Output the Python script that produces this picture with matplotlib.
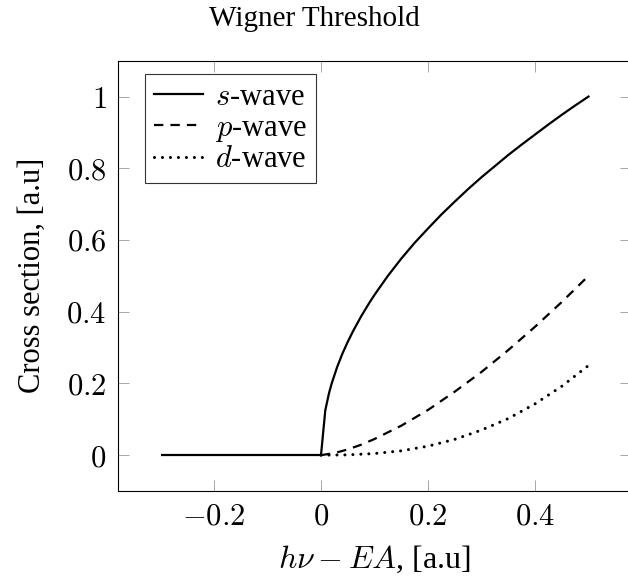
import matplotlib
matplotlib.use("Agg")
import matplotlib.pyplot as plt
from matplotlib.ticker import FixedLocator, FuncFormatter

plt.rcParams['font.family'] = ['Liberation Serif', 'DejaVu Serif']
plt.rcParams['mathtext.fontset'] = 'cm'

# data
x_flat = [-0.3, 0.0]
y_flat = [0.0, 0.0]
x_s = [0.0, 0.008, 0.015, 0.02, 0.03, 0.04, 0.05, 0.06, 0.075, 0.09, 0.1, 0.125, 0.15,
       0.175, 0.2, 0.225, 0.25, 0.275, 0.3, 0.325, 0.35, 0.375, 0.4, 0.425, 0.45, 0.475, 0.5]
y_s = [0.0, 0.125, 0.173, 0.20, 0.245, 0.283, 0.316, 0.346, 0.387, 0.424, 0.447, 0.50, 0.548,
       0.592, 0.632, 0.671, 0.707, 0.742, 0.775, 0.806, 0.837, 0.866, 0.894, 0.922, 0.949, 0.975, 1.00]
x_p = [0.0, 0.025, 0.05, 0.075, 0.1, 0.15, 0.2, 0.25, 0.3, 0.35, 0.4, 0.45, 0.5]
y_p = [0.0, 0.0056, 0.016, 0.029, 0.045, 0.082, 0.126, 0.177, 0.232, 0.293, 0.358, 0.427, 0.50]
x_d = [0.0, 0.05, 0.1, 0.15, 0.2, 0.25, 0.3, 0.35, 0.4, 0.45, 0.5]
y_d = [0.0, 0.0008, 0.0045, 0.012, 0.025, 0.044, 0.070, 0.102, 0.143, 0.192, 0.25]
labels = [r'$s$-wave', r'$p$-wave', r'$d$-wave']
xticks = [-0.2, 0.0, 0.2, 0.4]
yticks = [0.0, 0.2, 0.4, 0.6, 0.8, 1.0]

fig = plt.figure(figsize=(6.28, 5.83), dpi=100)
ax = fig.add_axes([117.7/628, 92/583, (631.3-117.7)/628, (491-60.7)/583])

lw = 1.6
ax.plot(x_flat, y_flat, color='black', lw=lw, solid_capstyle='butt')
ax.plot(x_s, y_s, color='black', lw=lw, label=labels[0])
ax.plot(x_p, y_p, color='black', lw=lw, linestyle=(0, (4.2, 3.2)), dash_capstyle='butt', label=labels[1])
ax.plot(x_d, y_d, color='black', lw=2.2, linestyle=(0, (0.01, 2.6)), dash_capstyle='round', label=labels[2])

ax.set_xlim(-0.38, 0.58)
ax.set_ylim(-0.1, 1.1)

def fmt(v, pos):
    if abs(v) < 1e-9:
        return r'$0$'
    return '$' + ('%g' % v) + '$'

ax.xaxis.set_major_locator(FixedLocator(xticks))
ax.yaxis.set_major_locator(FixedLocator(yticks))
ax.xaxis.set_major_formatter(FuncFormatter(fmt))
ax.yaxis.set_major_formatter(FuncFormatter(fmt))
ax.tick_params(direction='in', length=8, width=0.6, color='#999999',
               top=True, right=True, labelsize=22, pad=8)
for sp in ax.spines.values():
    sp.set_linewidth(0.8)
    sp.set_color('black')

ax.set_xlabel(r'$h\nu - EA$, [a.u]', fontsize=23, labelpad=9)
ax.set_ylabel('Cross section, [a.u]', fontsize=22, labelpad=14)
fig.text(0.5, 1 - 19/583, 'Wigner Threshold', ha='center', va='center', fontsize=21)

leg = ax.legend(loc='upper left', fontsize=22, frameon=True, fancybox=False,
                edgecolor='black', handlelength=1.6, handletextpad=0.4,
                labelspacing=0.05, borderpad=0.3, borderaxespad=0.0,
                bbox_to_anchor=((145-117.7)/(631.3-117.7), 1 - (74-60.7)/(491-60.7)))
leg.get_frame().set_linewidth(0.8)

fig.savefig('out.png', dpi=100)
